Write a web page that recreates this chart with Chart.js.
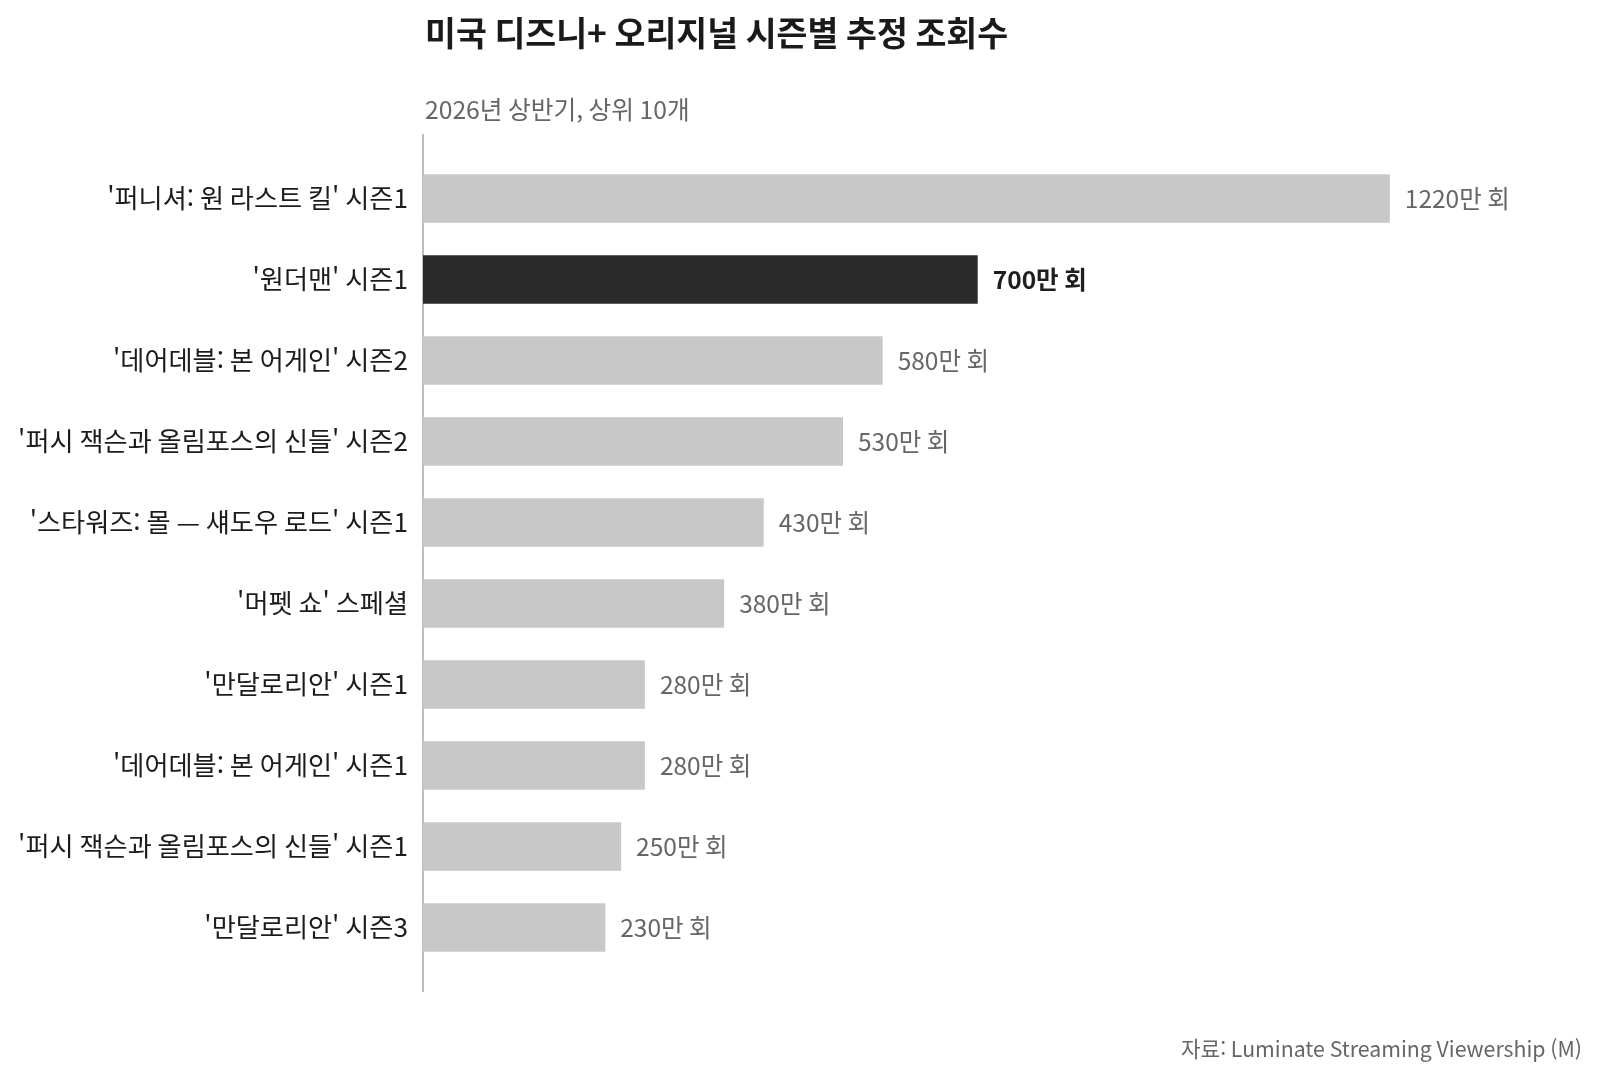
<!DOCTYPE html>
<html lang="ko">
<head>
<meta charset="utf-8">
<script src="https://cdn.jsdelivr.net/npm/chart.js@4.4.1/dist/chart.umd.min.js"></script>
<style>
  html, body { margin: 0; padding: 0; background: #ffffff; }
  #wrap { width: 1600px; height: 1079px; position: relative; }
</style>
</head>
<body>
<div id="wrap"><canvas id="c" width="1600" height="1079"></canvas></div>
<script>
const titleText = '미국 디즈니+ 오리지널 시즌별 추정 조회수';
const subtitleText = '2026년 상반기, 상위 10개';
const sourceText = '자료: Luminate Streaming Viewership (M)';

const categories = [
  "'퍼니셔: 원 라스트 킬' 시즌1",
  "'원더맨' 시즌1",
  "'데어데블: 본 어게인' 시즌2",
  "'퍼시 잭슨과 올림포스의 신들' 시즌2",
  "'스타워즈: 몰 — 섀도우 로드' 시즌1",
  "'머펫 쇼' 스페셜",
  "'만달로리안' 시즌1",
  "'데어데블: 본 어게인' 시즌1",
  "'퍼시 잭슨과 올림포스의 신들' 시즌1",
  "'만달로리안' 시즌3"
];
const values = [1220, 700, 580, 530, 430, 380, 280, 280, 250, 230];
const valueLabels = ['1220만 회', '700만 회', '580만 회', '530만 회', '430만 회', '380만 회', '280만 회', '280만 회', '250만 회', '230만 회'];
const highlightIndex = 1;

const FONT = "'Noto Sans CJK KR', 'Noto Sans', sans-serif";
const GREY = '#c8c8c8';
const DARK = '#2b2b2b';

const barColors = values.map((v, i) => i === highlightIndex ? DARK : GREY);

const decorPlugin = {
  id: 'decor',
  beforeDatasetsDraw(chart) {
    const { ctx, chartArea } = chart;
    ctx.save();
    ctx.strokeStyle = '#bdbdbd';
    ctx.lineWidth = 2;
    ctx.beginPath();
    ctx.moveTo(chartArea.left, chartArea.top - 24);
    ctx.lineTo(chartArea.left, chartArea.bottom + 24);
    ctx.stroke();
    ctx.restore();
  },
  afterDatasetsDraw(chart) {
    const { ctx, chartArea } = chart;
    const meta = chart.getDatasetMeta(0);
    ctx.save();
    ctx.textBaseline = 'middle';
    ctx.textAlign = 'left';
    meta.data.forEach((bar, i) => {
      if (i === highlightIndex) {
        ctx.font = "bold 24.5px " + FONT;
        ctx.fillStyle = '#1e1e1e';
      } else {
        ctx.font = "24.5px " + FONT;
        ctx.fillStyle = '#666666';
      }
      ctx.fillText(valueLabels[i], bar.x + 15, bar.y);
    });
    // title
    ctx.textBaseline = 'middle';
    ctx.fillStyle = '#1a1a1a';
    ctx.font = "bold 33.6px " + FONT;
    ctx.fillText(titleText, chartArea.left + 2, 33);
    ctx.fillStyle = '#666666';
    ctx.font = "24.7px " + FONT;
    ctx.fillText(subtitleText, chartArea.left + 2, 110);
    // source
    ctx.textAlign = 'right';
    ctx.font = "21.3px " + FONT;
    ctx.fillStyle = '#666666';
    ctx.fillText(sourceText, 1582, 1049);
    ctx.restore();
  }
};

new Chart(document.getElementById('c'), {
  type: 'bar',
  data: {
    labels: categories,
    datasets: [{
      data: values,
      backgroundColor: barColors,
      borderWidth: 0,
      barPercentage: 0.6,
      categoryPercentage: 1.0
    }]
  },
  options: {
    indexAxis: 'y',
    responsive: false,
    animation: false,
    devicePixelRatio: 1,
    layout: { padding: { top: 158, bottom: 111, left: 0, right: 20 } },
    plugins: {
      legend: { display: false },
      tooltip: { enabled: false },
      title: { display: false }
    },
    scales: {
      x: {
        display: false,
        min: 0,
        max: 1460
      },
      y: {
        afterFit(scale) { scale.width = 423; },
        grid: { display: false, drawTicks: false },
        border: { display: false },
        ticks: {
          padding: 15,
          color: '#1c1c1c',
          font: { family: FONT, size: 26.2 }
        }
      }
    }
  },
  plugins: [decorPlugin]
});
</script>
</body>
</html>
